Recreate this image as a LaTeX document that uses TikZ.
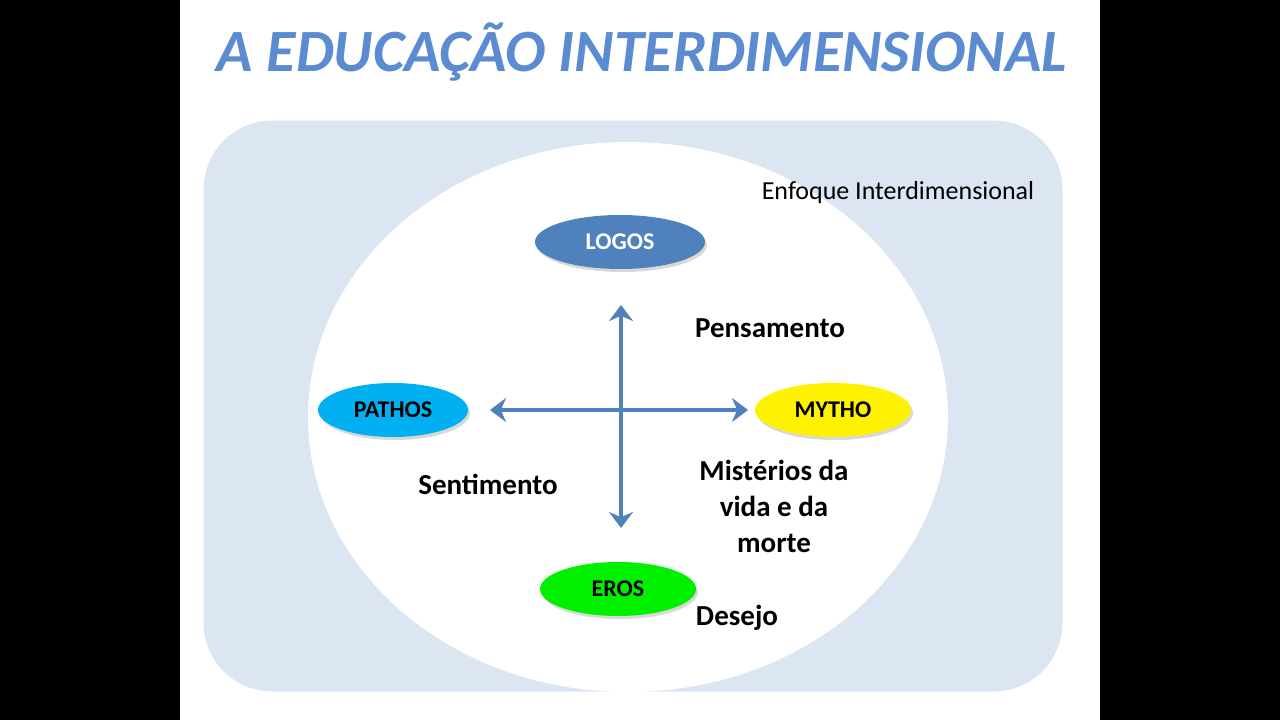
\documentclass[tikz,border=0pt]{standalone}
\usepackage{fontspec}
\setmainfont{Carlito}
\usetikzlibrary{shapes.geometric,arrows.meta,shadows}
\definecolor{lblue}{HTML}{DCE6F2}
\definecolor{mblue}{HTML}{4F81BD}
\definecolor{tblue}{HTML}{5B8BD0}
\definecolor{cyanc}{HTML}{00B0F0}
\definecolor{grn}{HTML}{00F000}
\tikzset{oval/.style={ellipse,minimum width=#1,minimum height=54pt,inner sep=0pt,font=\fontsize{24}{24}\selectfont\bfseries,drop shadow={opacity=0.3,shadow xshift=2pt,shadow yshift=-3pt}},
lbl/.style={font=\fontsize{29}{36}\selectfont\bfseries,align=center},
arr/.style={mblue,line width=4.5pt,{Stealth[length=16pt,width=24pt]}-{Stealth[length=16pt,width=24pt]}}}
\begin{document}
\begin{tikzpicture}[x=1pt,y=-1pt]
\useasboundingbox (0,0) rectangle (1280,720);
\fill[black] (0,0) rectangle (1280,720);
\fill[white] (180,0) rectangle (1100,720);
\node[font=\fontsize{60}{60}\selectfont\bfseries\itshape,text=tblue] (title) at (642,52) {A EDUCAÇÃO INTERDIMENSIONAL};
\draw[white,line width=3pt,fill=lblue,rounded corners=70pt] (202,119) rectangle (1064,693);
\fill[white] (628,417) ellipse [x radius=320pt,y radius=275pt];
\node[font=\fontsize{26}{26}\selectfont] (enf) at (898,193) {Enfoque Interdimensional};
\node[oval=170pt,fill=mblue,text=white] (logos) at (620,242) {LOGOS};
\node[oval=150pt,fill=cyanc] (pathos) at (393,410) {PATHOS};
\node[oval=156pt,fill=yellow] (mytho) at (833,410) {MYTHO};
\node[oval=156pt,fill=grn] (eros) at (618,589) {EROS};
\coordinate (t) at (621,305); \coordinate (b) at (621,528);
\coordinate (l) at (490,410); \coordinate (r) at (748,410);
\draw[arr] (t) -- (b);
\draw[arr] (l) -- (r);
\node[lbl] (pens) at (770,328) {Pensamento};
\node[lbl] (sent) at (488,484) {Sentimento};
\node[lbl] (mist) at (774,506) {Mistérios da\\vida e da\\morte};
\node[lbl] (des) at (737,618) {Desejo};
\end{tikzpicture}
\end{document}
